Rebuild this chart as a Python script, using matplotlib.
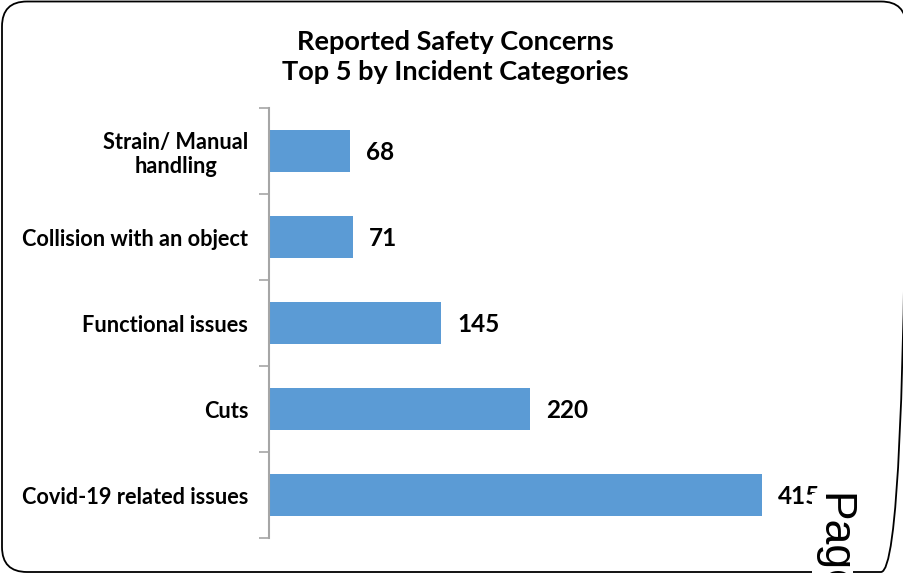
import matplotlib.pyplot as plt
from matplotlib.patches import FancyBboxPatch

plt.rcParams['font.family'] = ['Lato', 'DejaVu Sans']

categories = ["Covid-19 related issues", "Cuts", "Functional issues",
              "Collision with an object", "Strain/ Manual\nhandling"]
counts = [415, 220, 145, 71, 68]

title = "Reported Safety Concerns\nTop 5 by Incident Categories"
bar_color = "#5b9bd5"
axis_grey = "#a6a6a6"

W, H = 904, 573
fig = plt.figure(figsize=(W / 100, H / 100), dpi=100)

# background axes in pixel units, used for the rounded frame
bg = fig.add_axes([0, 0, 1, 1])
bg.set_xlim(0, W)
bg.set_ylim(H, 0)
bg.axis("off")
frame = FancyBboxPatch((2, 1.5), 904, 570.5,
                       boxstyle="round,pad=0,rounding_size=25",
                       fill=False, edgecolor="black", linewidth=1.3)
bg.add_patch(frame)

ax = fig.add_axes([269 / W, 35 / H, 594 / W, 430 / H])
y = list(range(len(categories)))
ax.barh(y, counts, height=0.48, color=bar_color)

for yi, v in zip(y, counts):
    ax.annotate(str(v), (v, yi), xytext=(16, -1), textcoords="offset pixels",
                ha="left", va="center", fontsize=17.5, fontweight="bold")

ax.set_xlim(0, 500)
ax.set_ylim(-0.5, len(categories) - 0.5)
ax.set_yticks(y)
ax.set_yticklabels(categories, fontsize=15.7, fontweight="bold",
                   multialignment="center")
ax.tick_params(axis="y", which="major", length=0, pad=15)
ax.set_yticks([i - 0.5 for i in range(len(categories) + 1)], minor=True)
ax.tick_params(axis="y", which="minor", length=7, width=1.2, color=axis_grey)
ax.set_xticks([])
for side in ("top", "right", "bottom"):
    ax.spines[side].set_visible(False)
ax.spines["left"].set_color(axis_grey)
ax.spines["left"].set_linewidth(1.5)

fig.text(455 / W, 1 - 57 / H, title, ha="center", va="center",
         fontsize=19.5, fontweight="bold", linespacing=1.25)

# page footer text bleeding into the chart
fig.text(812 / W, 1 - 493 / H, "Page", rotation=-90, ha="left", va="top",
         fontsize=32, color="black", family=["Liberation Sans", "DejaVu Sans"],
         bbox=dict(facecolor="white", edgecolor="none", pad=0))

fig.savefig("out.png", dpi=100)
